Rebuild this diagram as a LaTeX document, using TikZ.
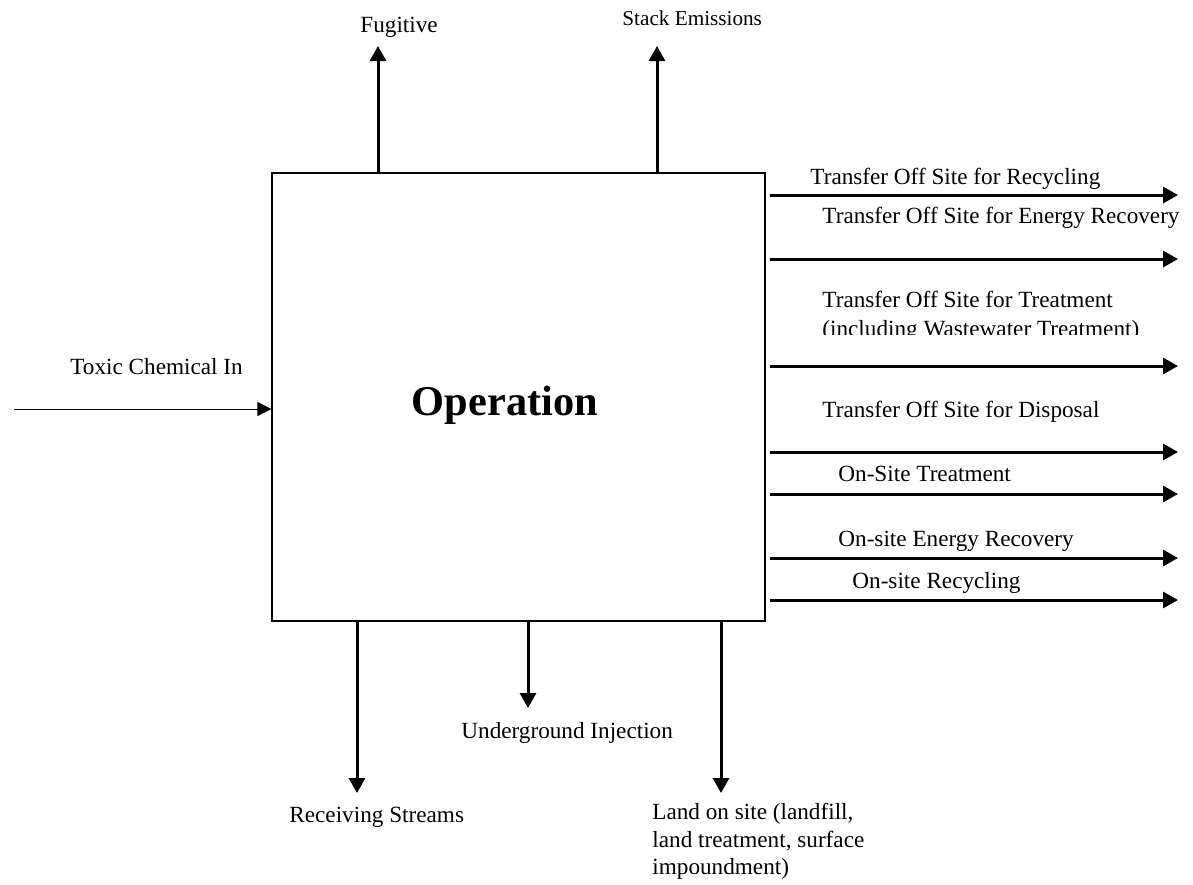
\documentclass[tikz,border=0pt]{standalone}
\usepackage{fontspec}
\setmainfont{Liberation Serif}
\usetikzlibrary{arrows.meta}

\begin{document}
\begin{tikzpicture}[x=0.5pt, y=-0.5pt,
    flow/.style={line width=1.5pt, -{Triangle[length=7.5pt, width=8pt]}},
    feed/.style={line width=0.5pt, -{Triangle[length=7pt, width=7pt]}},
    lbl/.style={inner sep=0pt, anchor=base west, font=\fontsize{11.6}{13.75}\selectfont}]
      \useasboundingbox (0,0) rectangle (1193,884);

      % Nodes
      \node[draw, line width=0.6pt, minimum width=246.5pt, minimum height=224pt, inner sep=0pt] at (518.5, 397) (op) {};
      \node[inner sep=0pt, anchor=base, font=\fontsize{21.2}{25}\selectfont\bfseries] at (505, 415) (optext) {Operation};

      \node[lbl] at (360, 32) (fugl) {Fugitive};
      \node[lbl, font=\fontsize{10.6}{13}\selectfont] at (622, 25) (stackl) {Stack Emissions};
      \node[lbl] at (70, 374) (toxl) {Toxic Chemical In};

      \node[lbl] at (810, 184) (r1l) {Transfer Off Site for Recycling};
      \node[lbl] at (822, 223) (r2l) {Transfer Off Site for Energy Recovery};
      \node[lbl] at (822, 307) (r3l) {Transfer Off Site for Treatment};
      % second line is cut off at the bottom
      \begin{scope}
        \clip (800, 312) rectangle (1193, 334);
        \node[lbl] at (822, 336) (r3m) {(including Wastewater Treatment)};
      \end{scope}
      \node[lbl] at (822, 417) (r4l) {Transfer Off Site for Disposal};
      \node[lbl] at (838, 481) (r5l) {On-Site Treatment};
      \node[lbl] at (838, 546) (r6l) {On-site Energy Recovery};
      \node[lbl] at (852, 588) (r7l) {On-site Recycling};

      \node[lbl] at (289, 822) (rsl) {Receiving Streams};
      \node[lbl] at (461, 738) (ugl) {Underground Injection};
      \node[lbl, anchor=north west, align=left] at (652, 803) (lndl) {Land on site (landfill,\\land treatment, surface\\impoundment)};

      % arrow ends
      \coordinate (fug) at (378, 46);
      \coordinate (stack) at (657, 46);
      \coordinate (tox) at (14, 409);
      \coordinate (rs) at (357, 793);
      \coordinate (ug) at (528, 708);
      \coordinate (lnd) at (721, 793);
      \foreach \n/\y in {1/195, 2/259, 3/366, 4/452, 5/494, 6/558, 7/600}
        \coordinate (r\n) at (1178, \y);

      \draw[flow] (op.north -| fug) -- (fug);
      \draw[flow] (op.north -| stack) -- (stack);
      \draw[feed] (tox) -- (op.west |- tox);
      \draw[flow] (op.south -| rs) -- (rs);
      \draw[flow] (op.south -| ug) -- (ug);
      \draw[flow] (op.south -| lnd) -- (lnd);
      \foreach \n in {1,...,7}
        \draw[flow] ([xshift=2pt]op.east |- r\n) -- (r\n);
    \end{tikzpicture}
\end{document}
